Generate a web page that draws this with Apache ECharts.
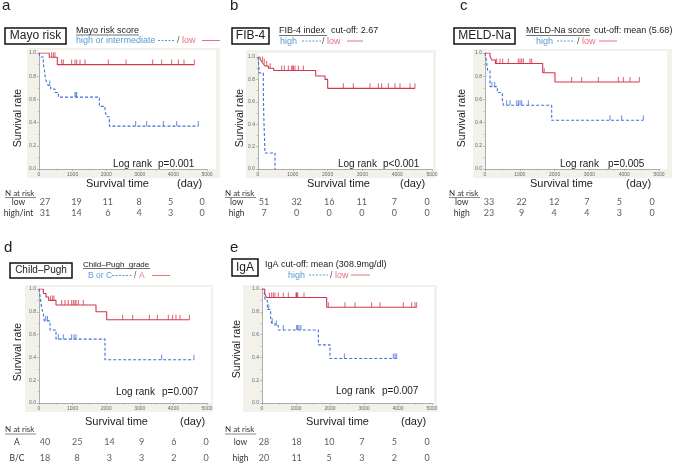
<!DOCTYPE html>
<html><head><meta charset="utf-8">
<script src="https://cdn.jsdelivr.net/npm/echarts@6/dist/echarts.min.js"></script>
<style>html,body{margin:0;padding:0;background:#fff}#c{width:676px;height:465px}</style>
</head><body><div id="c"></div>
<script>
// ---------------- DATA ----------------
const timeTicks = [0, 1000, 2000, 3000, 4000, 5000];

// (a) Mayo risk
const mayoLowSteps  = [[0,1],[307,0.963],[545,0.90],[4623,0.90]];
const mayoLowCensor = [377,427,476,675,724,972,1071,1121,1220,1369,2063,2589,3383,3651,3948,4147,4315,4623];
const mayoHighSteps = [[0,1],[30,0.965],[129,0.90],[159,0.86],[188,0.78],[228,0.75],[278,0.72],[347,0.69],[476,0.66],[575,0.62],[1796,0.54],[1964,0.50],[2014,0.45],[2093,0.37],[4742,0.37]];
const mayoHighCensor = [320,1071,1100,1121,2877,3204,3700,4097,4742];
const mayoRowLabels = ['low', 'high/int'];
const mayoRiskLow  = [27,19,11,8,5,0];
const mayoRiskHigh = [31,14,6,4,3,0];

// (b) FIB-4
const fibLowSteps  = [[0,1],[60,0.98],[105,0.96],[150,0.94],[200,0.92],[300,0.90],[450,0.88],[1657,0.83],[1925,0.80],[2002,0.72],[4511,0.72]];
const fibLowCensor = [130,180,250,350,680,757,872,967,1000,1016,1063,1159,1303,2452,2739,3218,3458,3554,3745,3937,4080,4368,4511];
const fibHighSteps = [[0,1],[38,0.857],[153,0.714],[160,0.571],[170,0.429],[185,0.286],[200,0.143],[489,0]];
const fibHighCensor = [];
const fibRowLabels = ['low', 'high'];
const fibRiskLow  = [51,32,16,11,7,0];
const fibRiskHigh = [7,0,0,0,0,0];

// (c) MELD-Na
const meldLowSteps  = [[0,1],[144,0.97],[200,0.94],[300,0.91],[1657,0.83],[2011,0.75],[4435,0.75]];
const meldLowCensor = [335,431,508,670,958,1006,1054,1102,1293,1341,1700,2490,2778,3257,3831,3975,4167,4435];
const meldHighSteps = [[0,1],[40,0.93],[77,0.85],[144,0.71],[354,0.66],[498,0.60],[527,0.55],[1916,0.42],[4549,0.42]];
const meldHighCensor = [200,280,623,718,910,958,1006,1054,1245,3592,3927,4549];
const meldRowLabels = ['low', 'high'];
const meldRiskLow  = [33,22,12,7,5,0];
const meldRiskHigh = [23,9,4,4,3,0];

// (d) Child-Pugh
const cpASteps  = [[0,1],[129,0.96],[208,0.93],[288,0.90],[506,0.86],[1696,0.80],[2014,0.73],[4474,0.73]];
const cpACensor = [347,407,446,675,774,873,972,1022,1071,1101,1171,1319,2490,2788,3284,3522,3849,3978,4077,4196,4474];
const cpBCSteps = [[0,1],[30,0.94],[79,0.83],[130,0.78],[159,0.72],[327,0.64],[506,0.56],[1964,0.38],[4613,0.38]];
const cpBCCensor = [200,250,575,724,972,1042,1101,3651,4613];
const cpRowLabels = ['A', 'B/C'];
const cpRiskA  = [40,25,14,9,6,0];
const cpRiskBC = [18,8,3,3,2,0];

// (e) IgA
const igaLowSteps  = [[0,1],[80,0.96],[130,0.925],[1902,0.84],[4549,0.84]];
const igaLowCensor = [216,284,333,382,480,627,775,1000,1015,1029,1049,1235,1951,2441,2735,3225,3471,4157,4402,4500,4549];
const igaHighSteps = [[0,1],[69,0.95],[98,0.90],[157,0.82],[255,0.74],[284,0.70],[382,0.68],[480,0.64],[1657,0.51],[2000,0.39],[3961,0.39]];
const igaHighCensor = [200,300,420,627,1020,1049,1088,1147,2422,3863,3912,3961];
const igaRowLabels = ['low', 'high'];
const igaRiskLow  = [28,18,10,7,5,0];
const igaRiskHigh = [20,11,5,3,2,0];

// ---------------- STYLE / LAYOUT ----------------
const RED = '#d4364f', BLUE = '#3f6fd8';
const LRED = '#e8707f', LBLUE = '#5b9bd5';
const ARIAL = '"Liberation Sans", Arial, sans-serif';
const CAL = 'Lato, "Open Sans", sans-serif';

const panels = [
  { grid:{left:39,top:53,width:168,height:116}, bg:[27,48,193,130], white:[39,50,177,119],
    red:[mayoLowSteps,mayoLowCensor], blue:[mayoHighSteps,mayoHighCensor],
    rows:mayoRowLabels, risk:[mayoRiskLow,mayoRiskHigh],
    table:{left:45,top:202.5,width:157,height:10.5}, rowMargin:26.5 },
  { grid:{left:258,top:57,width:174,height:112}, bg:[246,50,190,128], white:[258,53,175,116],
    red:[fibLowSteps,fibLowCensor], blue:[fibHighSteps,fibHighCensor],
    rows:fibRowLabels, risk:[fibRiskLow,fibRiskHigh],
    table:{left:264,top:202.5,width:163,height:10.5}, rowMargin:27.4 },
  { grid:{left:485,top:53,width:174,height:116}, bg:[473,49,199,129], white:[485,51,182,118],
    red:[meldLowSteps,meldLowCensor], blue:[meldHighSteps,meldHighCensor],
    rows:meldRowLabels, risk:[meldRiskLow,meldRiskHigh],
    table:{left:489,top:202.5,width:163,height:10.5}, rowMargin:27.3 },
  { grid:{left:39,top:289,width:168,height:114}, bg:[25,285,188,127], white:[39,287,172,116],
    red:[cpASteps,cpACensor], blue:[cpBCSteps,cpBCCensor],
    rows:cpRowLabels, risk:[cpRiskA,cpRiskBC],
    table:{left:45,top:442.5,width:161,height:15.5}, rowMargin:28 },
  { grid:{left:262,top:289,width:170,height:114}, bg:[243,285,194,127], white:[262,287,172,116],
    red:[igaLowSteps,igaLowCensor], blue:[igaHighSteps,igaHighCensor],
    rows:igaRowLabels, risk:[igaRiskLow,igaRiskHigh],
    table:{left:264,top:442.5,width:163,height:15.5}, rowMargin:23.5 }
];

function surv(steps, t){ let s = steps[0][1]; for (const p of steps){ if (p[0] <= t) s = p[1]; } return s; }

const grids = [], xAxes = [], yAxes = [], series = [], graphic = [];
const axisCol = '#999';

panels.forEach((p, i) => {
  const gi = grids.length;
  grids.push(Object.assign({containLabel:false}, p.grid));
  xAxes.push({ gridIndex:gi, type:'value', min:0, max:5000, interval:1000,
    axisLine:{lineStyle:{color:axisCol,width:0.8}},
    axisTick:{length:2,lineStyle:{color:axisCol,width:0.6}},
    minorTick:{show:true,splitNumber:2,length:1.5,lineStyle:{color:axisCol,width:0.5}},
    axisLabel:{fontSize:5,color:'#666',margin:3,fontFamily:ARIAL,formatter:v=>String(v)},
    splitLine:{show:false} });
  yAxes.push({ gridIndex:gi, type:'value', min:0, max:1, interval:0.2,
    axisLine:{show:true,lineStyle:{color:axisCol,width:0.8}},
    axisTick:{show:true,length:2,lineStyle:{color:axisCol,width:0.6}},
    minorTick:{show:true,splitNumber:2,length:1.5,lineStyle:{color:axisCol,width:0.5}},
    axisLabel:{fontSize:5,color:'#666',margin:3,fontFamily:ARIAL,formatter:v=>v.toFixed(1)},
    splitLine:{show:false} });
  const mk = (pair, color, dashed) => {
    series.push({ type:'line', xAxisIndex:gi, yAxisIndex:gi, step:'end', showSymbol:false, silent:true,
      data:pair[0], lineStyle:{color, width:1.1, type: dashed ? [3,2] : 'solid'}, z:3 });
    series.push({ type:'scatter', xAxisIndex:gi, yAxisIndex:gi, silent:true, symbol:'rect',
      symbolSize:[1,5], symbolOffset:[0,-2.5], itemStyle:{color},
      data: pair[1].map(t => [t, surv(pair[0], t)]), z:4 });
  };
  mk(p.blue, BLUE, true);
  mk(p.red, RED, false);

  // risk table
  const ti = grids.length;
  grids.push(p.table);
  xAxes.push({ gridIndex:ti, type:'value', min:0, max:5000, show:false });
  yAxes.push({ gridIndex:ti, type:'category', data:p.rows, inverse:true, boundaryGap:false,
    axisLine:{show:false}, axisTick:{show:false}, splitLine:{show:false},
    axisLabel:{interval:0, hideOverlap:false, fontSize:8.5, color:'#333', fontFamily:CAL, margin:p.rowMargin, align:'center'} });
  const tdata = [];
  p.risk.forEach((arr, r) => arr.forEach((v, k) => tdata.push([timeTicks[k], p.rows[r], v])));
  series.push({ type:'scatter', xAxisIndex:ti, yAxisIndex:ti, symbolSize:0, silent:true, data:tdata,
    label:{show:true, position:'inside', formatter:d=>d.value[2], fontSize:9, color:'#333', fontFamily:CAL} });

  // backgrounds
  graphic.push({type:'rect', z:-10, shape:{x:p.bg[0],y:p.bg[1],width:p.bg[2],height:p.bg[3]}, style:{fill:'#f2f2ea'}});
  graphic.push({type:'rect', z:-9, shape:{x:p.white[0],y:p.white[1],width:p.white[2],height:p.white[3]}, style:{fill:'#ffffff'}});
});

function txt(x, y, text, size, opt){
  opt = opt || {};
  graphic.push({type:'text', z:10, x, y, rotation: opt.rot || 0,
    style:{text, fontSize:size, fontFamily: opt.font || ARIAL, fill: opt.fill || '#222',
      align: opt.align || 'left', verticalAlign: opt.va || 'middle', fontWeight: opt.bold ? 'bold':'normal'}});
}
function line(x1, y1, x2, y2, color, dash, w){
  graphic.push({type:'line', z:10, shape:{x1,y1,x2,y2}, style:{stroke:color, lineWidth:w||1, lineDash: dash ? [2,1.5] : null}});
}
function box(x, y, w, h){
  graphic.push({type:'rect', z:10, shape:{x,y,width:w,height:h}, style:{fill:'#fff', stroke:'#111', lineWidth:1.5}});
}

// panel letters
txt(2, 13.5, 'a', 15, {va:'bottom'});
txt(230, 13.5, 'b', 15, {va:'bottom'});
txt(460, 13.5, 'c', 15, {va:'bottom'});
txt(4, 255.5, 'd', 15, {va:'bottom'});
txt(230, 255, 'e', 15, {va:'bottom'});

// title boxes
box(5, 28, 61, 16);   txt(35.5, 36, 'Mayo risk', 12, {align:'center'});
box(232, 28, 37, 16); txt(250.5, 36, 'FIB-4', 12, {align:'center'});
box(454, 28, 61, 16); txt(484.5, 36, 'MELD-Na', 12, {align:'center'});
box(10, 263, 62, 15); txt(41, 270.5, 'Child\u2013Pugh', 10, {align:'center'});
box(232, 259, 26, 17); txt(245, 267.5, 'IgA', 12, {align:'center'});

// headers + legends
txt(76, 30.5, 'Mayo risk score', 9); line(76, 35, 139, 35, '#333', false, 0.7);
txt(76, 41, 'high or intermediate', 9, {fill:LBLUE}); line(158, 40.5, 175, 40.5, LBLUE, true);
txt(177, 41, '/', 9, {fill:'#555'}); txt(182, 41, 'low', 9, {fill:LRED}); line(202, 40.5, 220, 40.5, LRED, false);

txt(279, 31, 'FIB-4 index', 9); line(279, 35.5, 327, 35.5, '#333', false, 0.7); txt(331, 31, 'cut-off: 2.67', 9);
txt(280, 41.5, 'high', 9, {fill:LBLUE}); line(302, 41, 321, 41, LBLUE, true);
txt(322, 41.5, '/', 9, {fill:'#555'}); txt(327, 41.5, 'low', 9, {fill:LRED}); line(347, 41, 363, 41, LRED, false);

txt(526, 31, 'MELD-Na score', 9); line(526, 35.5, 590, 35.5, '#333', false, 0.7); txt(594, 31, 'cut-off: mean (5.68)', 9);
txt(536, 41.5, 'high', 9, {fill:LBLUE}); line(557, 41, 575, 41, LBLUE, true);
txt(577, 41.5, '/', 9, {fill:'#555'}); txt(582, 41.5, 'low', 9, {fill:LRED}); line(599, 41, 617, 41, LRED, false);

txt(83, 264.5, 'Child\u2013Pugh  grade', 8); line(83, 268.5, 150, 268.5, '#333', false, 0.7);
txt(88, 276, 'B or C', 8.5, {fill:LBLUE}); line(112, 275.5, 132, 275.5, LBLUE, true);
txt(134, 276, '/', 8.5, {fill:'#555'}); txt(139, 276, 'A', 8.5, {fill:LRED}); line(152, 275.5, 170, 275.5, LRED, false);

txt(265, 265, 'IgA cut-off: mean (308.9mg/dl)', 9);
txt(288, 275.5, 'high', 9, {fill:LBLUE}); line(309, 275, 328, 275, LBLUE, true);
txt(330, 275.5, '/', 9, {fill:'#555'}); txt(335, 275.5, 'low', 9, {fill:LRED}); line(351, 275, 370, 275, LRED, false);

// y-axis titles
const rot = Math.PI/2;
txt(18, 118, 'Survival rate', 10.5, {align:'center', rot});
txt(240, 118, 'Survival rate', 10.5, {align:'center', rot});
txt(462, 118, 'Survival rate', 10.5, {align:'center', rot});
txt(18, 352, 'Survival rate', 10.5, {align:'center', rot});
txt(237.5, 349, 'Survival rate', 10.5, {align:'center', rot});

// log rank
txt(113, 164, 'Log rank', 10); txt(158, 164, 'p=0.001', 10);
txt(338, 164, 'Log rank', 10); txt(383, 164, 'p<0.001', 10);
txt(560, 164, 'Log rank', 10); txt(608, 164, 'p=0.005', 10);
txt(116, 392.5, 'Log rank', 10); txt(162, 392.5, 'p=0.007', 10);
txt(336, 391, 'Log rank', 10); txt(382, 391, 'p=0.007', 10);

// x titles
txt(86, 184, 'Survival time', 11); txt(177, 184, '(day)', 11);
txt(307, 183.5, 'Survival time', 11); txt(400, 183.5, '(day)', 11);
txt(530, 183.5, 'Survival time', 11); txt(626, 183.5, '(day)', 11);
txt(85, 421.5, 'Survival time', 11); txt(180, 421.5, '(day)', 11);
txt(306, 421.5, 'Survival time', 11); txt(401, 421.5, '(day)', 11);

// N at risk
[[5,193],[225,193],[449,193],[5,429.5],[225,429.5]].forEach(([x,y]) => {
  txt(x, y, 'N at risk', 8, {font:CAL, fill:'#333'});
  line(x, y+4.5, x+31, y+4.5, '#333', false, 0.6);
});

const chart = echarts.init(document.getElementById('c'), null, {renderer:'canvas'});
chart.setOption({ animation:false, backgroundColor:'#fff', grid:grids, xAxis:xAxes, yAxis:yAxes, series, graphic });
</script></body></html>
